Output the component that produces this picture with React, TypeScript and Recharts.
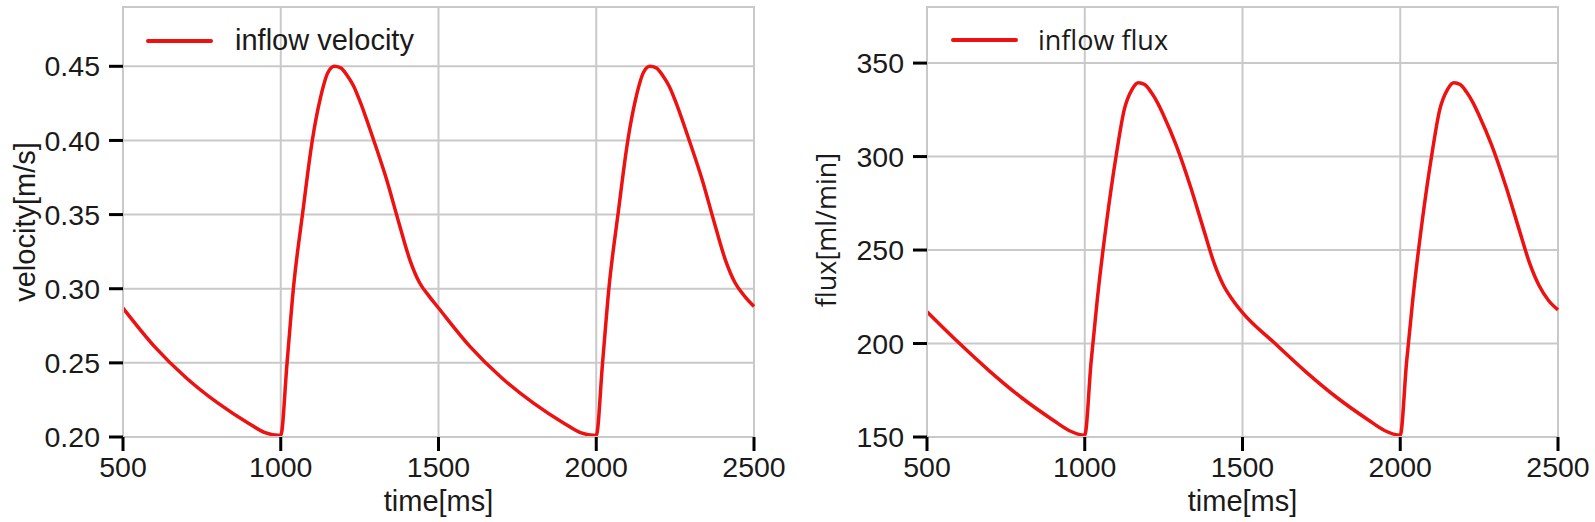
import React from "react";
import {
  LineChart,
  Line,
  XAxis,
  YAxis,
  CartesianGrid,
  Legend,
  ReferenceArea,
} from "recharts";

// time axis shared by both panels (ms)
const timeMs = [
  500, 600, 700, 800, 900, 950, 1000, 1020, 1040, 1070, 1100, 1125, 1150, 1170,
  1190, 1210, 1230, 1250, 1290, 1335, 1375, 1410, 1440, 1470, 1500, 1600, 1700,
  1800, 1900, 1950, 2000, 2020, 2040, 2070, 2100, 2125, 2150, 2170, 2190, 2210,
  2230, 2250, 2290, 2335, 2375, 2410, 2440, 2470, 2500,
];

// inflow velocity [m/s]
const velocity = [
  0.287, 0.261, 0.24, 0.223, 0.209, 0.203, 0.201, 0.25, 0.3, 0.352, 0.4, 0.428,
  0.446, 0.45, 0.449, 0.444, 0.437, 0.427, 0.403, 0.374, 0.344, 0.319, 0.304,
  0.295, 0.287, 0.261, 0.24, 0.223, 0.209, 0.203, 0.201, 0.25, 0.3, 0.352, 0.4,
  0.428, 0.446, 0.45, 0.449, 0.444, 0.437, 0.427, 0.403, 0.374, 0.344, 0.319,
  0.304, 0.295, 0.288,
];

// inflow flux [ml/min]
const flux = [
  217, 200.5, 185, 171, 159, 153.5, 151, 190, 224, 266, 301, 325, 336, 339.5,
  338.5, 334.5, 329, 322, 306, 284, 262, 243, 231, 223, 216.5, 200.5, 185, 171,
  159, 153.5, 151, 190, 224, 266, 301, 325, 336, 339.5, 338.5, 334.5, 329, 322,
  306, 284, 262, 243, 231, 223, 218,
];

const timeTicks = [500, 1000, 1500, 2000, 2500];
const velocityTicks = [0.2, 0.25, 0.3, 0.35, 0.4, 0.45];
const fluxTicks = [150, 200, 250, 300, 350];

const velocityData = timeMs.map((t, i) => ({ t, v: velocity[i] }));
const fluxData = timeMs.map((t, i) => ({ t, v: flux[i] }));

const FONT = "'Liberation Sans', Arial, sans-serif";
const ALT_FONT = "'Open Sans', 'Liberation Sans', sans-serif";
const GRID = "#c9c9c9";
const TEXT = "#1a1a1a";

function legendContent(label: string, font: string, size: number, gap: number) {
  return () => (
    <div style={{ display: "flex", alignItems: "center" }}>
      <svg width={67} height={8}>
        <line
          x1={2}
          y1={4}
          x2={65}
          y2={4}
          stroke="#ee1111"
          strokeWidth={4}
          strokeLinecap="round"
        />
      </svg>
      <span
        style={{
          marginLeft: gap,
          fontFamily: font,
          fontSize: size,
          color: TEXT,
          lineHeight: 1.15,
          whiteSpace: "nowrap",
        }}
      >
        {label}
      </span>
    </div>
  );
}

function xLabel(value: string) {
  return (props: any) => {
    const vb = props.viewBox || {};
    return (
      <text
        x={vb.x + vb.width / 2}
        y={511}
        textAnchor="middle"
        fontSize={29}
        fontFamily={FONT}
        fill={TEXT}
      >
        {value}
      </text>
    );
  };
}

function yLabel(value: string, cx: number, shift: number, font: string, size: number) {
  return (props: any) => {
    const vb = props.viewBox || {};
    const cy = vb.y + vb.height / 2 + shift;
    return (
      <text
        x={cx}
        y={cy}
        transform={`rotate(-90 ${cx} ${cy})`}
        textAnchor="middle"
        fontSize={size}
        fontFamily={font}
        fill={TEXT}
      >
        {value}
      </text>
    );
  };
}

interface PanelProps {
  data: Array<{ t: number; v: number }>;
  domain: [number, number];
  ticks: number[];
  fmt: (v: number) => string;
  yWidth: number;
  width: number;
  label: string;
  labelX: number;
  labelShift: number;
  labelFont: string;
  labelSize: number;
  legend: string;
  legendLeft: number;
  legendGap: number;
}

function Panel(p: PanelProps) {
  const tickStyle = { fill: TEXT, fontSize: 28.5, fontFamily: FONT };
  return (
    <LineChart
      width={p.width}
      height={522}
      data={p.data}
      margin={{ top: 7, right: p.width - p.yWidth - 631, bottom: 0, left: 0 }}
      style={{ fontFamily: FONT }}
    >
      <CartesianGrid
        stroke={GRID}
        strokeWidth={2}
        horizontalValues={p.ticks}
        verticalValues={timeTicks}
      />
      <ReferenceArea
        x1={500}
        x2={2500}
        y1={p.domain[0]}
        y2={p.domain[1]}
        fill="none"
        stroke={GRID}
        strokeWidth={2}
        fillOpacity={0}
      />
      <XAxis
        dataKey="t"
        type="number"
        domain={[500, 2500]}
        ticks={timeTicks}
        height={85}
        tick={tickStyle}
        tickSize={14}
        tickMargin={6}
        tickLine={{ stroke: "#000", strokeWidth: 3 }}
        axisLine={{ stroke: GRID, strokeWidth: 2 }}
        interval={0}
        label={{ content: xLabel("time[ms]") } as any}
      />
      <YAxis
        type="number"
        domain={p.domain}
        ticks={p.ticks}
        allowDataOverflow
        width={p.yWidth}
        tick={tickStyle}
        tickSize={14}
        tickMargin={9}
        tickLine={{ stroke: "#000", strokeWidth: 3 }}
        axisLine={{ stroke: GRID, strokeWidth: 2 }}
        tickFormatter={p.fmt}
        interval={0}
        label={
          {
            content: yLabel(p.label, p.labelX, p.labelShift, p.labelFont, p.labelSize),
          } as any
        }
      />
      <Legend
        layout="horizontal"
        verticalAlign="middle"
        align="center"
        wrapperStyle={{ left: p.legendLeft, top: 24, width: "auto" }}
        content={legendContent(
          p.legend,
          p.labelFont,
          p.labelFont === FONT ? 29 : 27,
          p.legendGap
        )}
      />
      <Line
        type="monotone"
        dataKey="v"
        name={p.legend}
        stroke="#ee1111"
        strokeWidth={3.5}
        dot={false}
        isAnimationActive={false}
      />
    </LineChart>
  );
}

export default function App() {
  return (
    <div
      style={{
        position: "absolute",
        left: 0,
        top: 0,
        width: 1595,
        height: 522,
        background: "#fff",
      }}
    >
      <div style={{ position: "absolute", left: 0, top: 0 }}>
        <Panel
          data={velocityData}
          domain={[0.2, 0.49]}
          ticks={velocityTicks}
          fmt={(v) => v.toFixed(2)}
          yWidth={123}
          width={790}
          label="velocity[m/s]"
          labelX={35}
          labelShift={0}
          labelFont={FONT}
          labelSize={29}
          legend="inflow velocity"
          legendLeft={146}
          legendGap={22}
        />
      </div>
      <div style={{ position: "absolute", left: 795, top: 0 }}>
        <Panel
          data={fluxData}
          domain={[150, 380]}
          ticks={fluxTicks}
          fmt={(v) => String(v)}
          yWidth={132}
          width={800}
          label="flux[ml/min]"
          labelX={41}
          labelShift={8}
          labelFont={ALT_FONT}
          labelSize={27}
          legend="inflow flux"
          legendLeft={156}
          legendGap={20}
        />
      </div>
    </div>
  );
}
